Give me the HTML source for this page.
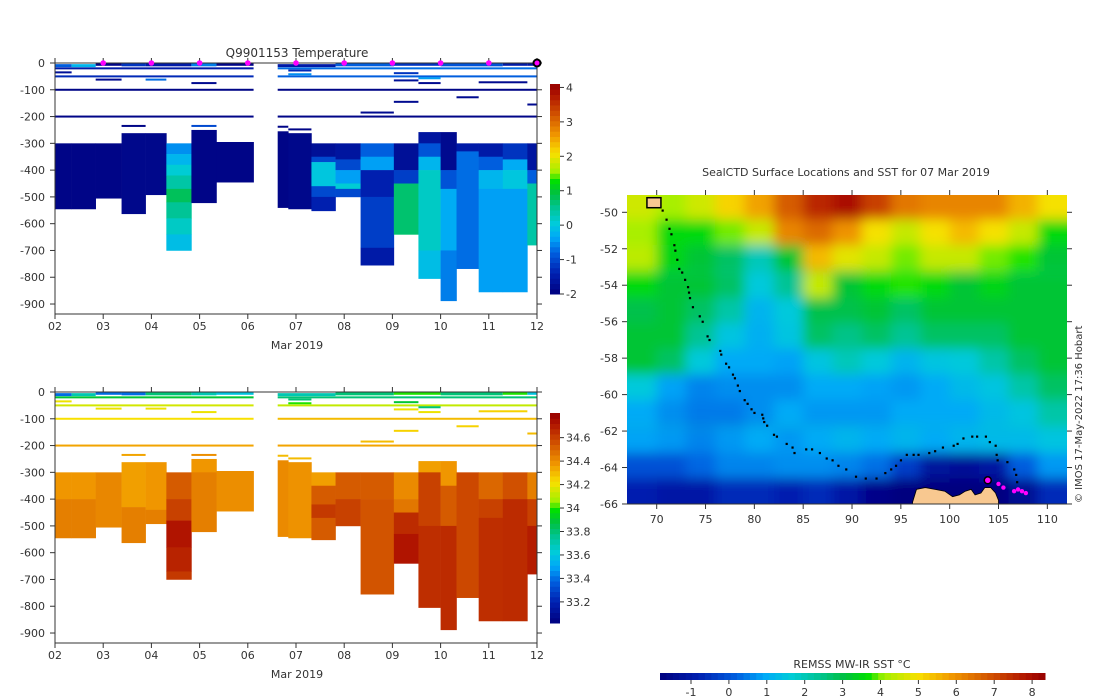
<!DOCTYPE html>
<html><head><meta charset="utf-8">
<style>
html,body{margin:0;padding:0;background:#fff;}
svg{display:block;font-family:"DejaVu Sans","Liberation Sans",sans-serif;}
text{fill:#333;}
</style></head>
<body>
<svg id="root" width="1100" height="700" viewBox="0 0 1100 700" xmlns="http://www.w3.org/2000/svg">
<defs>
<clipPath id="mapclip"><rect x="627" y="195" width="440" height="309"/></clipPath>
<filter id="blur" x="-5%" y="-5%" width="110%" height="110%"><feGaussianBlur stdDeviation="6"/></filter>
</defs>
<text x="297" y="57" text-anchor="middle" font-size="12">Q9901153  Temperature</text>
<text x="846" y="176" text-anchor="middle" font-size="11">SealCTD Surface Locations and SST for 07 Mar 2019</text>
<text x="852" y="668" text-anchor="middle" font-size="11">REMSS MW-IR SST °C</text>
<text transform="translate(1082,503) rotate(-90)" font-size="10">© IMOS 17-May-2022 17:36 Hobart</text>
<g id="top"></g>
<g id="bot"></g>
<g id="map"></g>
</svg>
<script>
// ---------- Section chart data ----------
const colStarts = [2.0,2.345,2.844,3.381,3.88,4.31,4.83,5.35,6.62,6.84,7.32,7.82,8.34,9.03,9.54,10.0,10.33,10.79,11.29,11.8];
const colEnds   = [2.345,2.844,3.381,3.88,4.31,4.83,5.35,6.12,6.84,7.32,7.82,8.34,9.03,9.54,10.0,10.33,10.79,11.29,11.8,12.0];
const tempLayers = [
 [[300,545,-1.9]],[[300,545,-1.9]],[[300,505,-1.9]],[[262,563,-1.85]],[[262,492,-1.85]],
 [[300,340,-0.5],[340,380,-0.2],[380,420,0.1],[420,470,0.4],[470,520,0.8],[520,580,0.5],[580,640,0.2],[640,700,-0.1]],
 [[250,522,-1.9]],[[295,445,-1.9]],[[255,540,-1.9]],[[262,545,-1.85]],
 [[300,350,-1.7],[350,370,-1.0],[370,460,0.0],[460,500,-1.0],[500,552,-1.4]],
 [[300,360,-1.6],[360,400,-1.0],[400,450,-0.4],[450,470,0.1],[470,500,-1.0]],
 [[300,350,-0.8],[350,400,-0.4],[400,500,-1.4],[500,690,-1.1],[690,755,-1.5]],
 [[300,400,-1.7],[400,450,-1.1],[450,640,0.7]],
 [[258,300,-1.6],[300,350,-0.9],[350,400,-0.2],[400,700,0.2],[700,805,-0.1]],
 [[258,400,-1.8],[400,470,-0.9],[470,700,-0.3],[700,888,-0.6]],
 [[300,330,-1.5],[330,768,-0.7]],
 [[300,350,-1.5],[350,400,-0.8],[400,470,-0.2],[470,855,-0.4]],
 [[300,360,-1.2],[360,400,-0.3],[400,470,0.0],[470,855,-0.4]],
 [[300,400,-1.6],[400,450,-0.8],[450,680,0.4]]
];
const salLayers = [
 [[300,400,34.38],[400,545,34.44]],[[300,400,34.38],[400,545,34.44]],[[300,505,34.42]],
 [[262,430,34.36],[430,563,34.44]],[[262,440,34.38],[440,492,34.44]],
 [[300,400,34.53],[400,480,34.6],[480,580,34.72],[580,670,34.68],[670,700,34.62]],
 [[250,300,34.38],[300,522,34.44]],[[295,445,34.4]],[[255,540,34.41]],[[262,545,34.39]],
 [[300,350,34.36],[350,420,34.53],[420,470,34.62],[470,552,34.53]],
 [[300,400,34.53],[400,500,34.6]],
 [[300,400,34.53],[400,755,34.55]],
 [[300,400,34.41],[400,450,34.46],[450,530,34.66],[530,640,34.72]],
 [[258,300,34.36],[300,500,34.6],[500,805,34.65]],
 [[258,350,34.38],[350,500,34.53],[500,888,34.66]],
 [[300,768,34.58]],
 [[300,400,34.5],[400,470,34.6],[470,855,34.65]],
 [[300,400,34.56],[400,855,34.66]],
 [[300,400,34.44],[400,500,34.6],[500,680,34.7]]
];
// surface thin lines: [dayFrom, dayTo, depth, temp, sal]
const surfLines = [
 [2,2.345,8,-0.8,33.4],[2.345,2.844,8,-0.2,33.7],[2.844,3.381,3,-1.9,33.4],[3.381,3.88,5,-1.2,33.4],
 [3.88,4.83,5,-1.5,33.8],[4.83,5.35,5,-0.6,33.7],[5.35,6.12,3,-1.9,33.6],[6.62,7.82,8,-1.5,33.7],
 [7.82,9.03,5,-0.8,33.8],[9.03,10,3,-1.2,34.0],[10,11.29,5,-0.9,33.8],[11.29,11.8,3,-1.5,34.0],[11.8,12,3,-1.6,33.6],
 [2,6.12,20,-1.5,33.9],[6.62,12,20,-0.7,33.8],
 [2,6.12,50,-1.3,34.15],[6.62,12,50,-0.8,34.12],
 [2,6.12,100,-1.9,34.22],[6.62,12,100,-1.9,34.3],
 [2,6.12,200,-1.9,34.35],[6.62,12,200,-1.9,34.35],
 [2,2.345,35,-1.7,34.2],[2.844,3.381,62,-1.8,34.2],[3.88,4.31,62,-0.7,34.2],[4.83,5.35,75,-1.8,34.2],
 [3.381,3.88,235,-1.9,34.35],[4.83,5.35,235,-1.0,34.4],[6.62,6.84,238,-1.9,34.3],[6.84,7.32,248,-1.9,34.3],
 [8.34,9.03,185,-1.8,34.3],[9.03,9.54,145,-1.8,34.25],[10.33,10.79,128,-1.8,34.25],[11.8,12,155,-1.8,34.3],
 [9.03,9.54,38,-1.2,33.9],[9.03,9.54,65,-1.7,34.2],[9.54,10,75,-1.8,34.2],[10.79,11.8,72,-1.8,34.25],
 [9.54,10,57,-0.4,33.8],[6.84,7.32,28,-1.3,33.8],[6.84,7.32,42,-0.5,34.0]
];
const markerDays = [3,4,5,6,7,8,9,10,11];
const currentDay = [12];
const dayTicks = [2,3,4,5,6,7,8,9,10,11,12];
const dayLabels = ["02","03","04","05","06","07","08","09","10","11","12"];
const depthTicks = [0,100,200,300,400,500,600,700,800,900];
const tempTicks = [-2,-1,0,1,2,3,4];
const salTicks = [33.2,33.4,33.6,33.8,34,34.2,34.4,34.6];

// ---------- Map data ----------
const gridLons = [68.5,71.5,74.5,77.5,80.5,83.5,86.5,89.5,92.5,95.5,98.5,101.5,104.5,107.5,110.5];
const gridLats = [-49.7,-51.1,-52.5,-54.0,-55.4,-56.8,-58.2,-59.6,-61.0,-62.5,-63.9,-65.3];
const sstGrid = [
 [4.6,4.2,4.6,5.2,5.8,6.8,7.6,8,7.2,6.4,6.2,6.2,6.2,5.6,5],
 [4.2,3.6,3.6,4,4.5,6.2,6.6,6,5,4.5,5,5.5,5,4.5,3.6],
 [4.4,3.5,3.2,2.8,2,3.2,5.5,4.8,4.5,4,4.5,4.5,4,3.8,3.2],
 [3.6,3.2,3.2,2.8,1.6,2.4,4.5,3.2,3.6,3.8,3.6,3.2,3.5,3.2,3.2],
 [3,3.2,2.8,2.2,1.2,1.6,3,3,3.2,2.8,3.2,3.2,3.2,3.2,3.2],
 [3.2,3.2,2.4,1.5,1.1,1.5,2.8,2.5,2.8,2.4,2.8,2.8,2.8,3.2,3.2],
 [3.2,2.8,1.6,1,1,0.9,1.5,2,1.6,1.2,1.5,1.6,2.2,2.8,3.2],
 [1.6,0.9,0.6,0.7,0.7,0.7,1,1,0.9,0.8,1,1.3,1.5,2.2,2.8],
 [1,0.7,0.5,0.5,0.7,1,0.8,0.8,0.8,1,1,1,1.3,1.5,2.2],
 [0.9,0.8,0.6,0.8,1,0.8,1,1.2,1,1.2,1,1.2,1.3,1.3,1.5],
 [0,0,0.3,0.6,0.6,0.7,0.7,0.6,0.4,-0.3,-1.2,-1.3,-1.1,0.2,0.8],
 [-0.8,-1,-1,-0.6,-0.6,-0.8,-0.6,-1,-1.6,-1.8,-1.8,-1.8,-1.8,-1.4,-0.6]
];
const trackLon = [70.6,71,71.3,71.5,71.8,71.9,72.1,72.3,72.6,72.9,73.2,73.3,73.4,73.7,74.4,74.7,75.2,75.4,76.5,76.6,77.1,77.4,77.8,78,78.3,78.5,79,79.3,79.7,80,80.8,80.9,81,81.3,82,82.3,83.3,83.9,84.1,85.3,85.9,86.7,87.4,88,88.6,89.4,90.4,91.4,92.5,93.4,94,94.5,95,95.6,96.3,96.8,97.9,98.5,99.3,100.4,100.8,101.4,102.3,102.8,103.7,104.1,104.7,104.8,104.9,105.9,106.6,106.8,106.9];
const trackLat = [-49.9,-50.4,-50.9,-51.2,-51.8,-52.1,-52.6,-53.1,-53.3,-53.7,-54.1,-54.4,-54.7,-55.2,-55.7,-56,-56.8,-57,-57.6,-57.8,-58.3,-58.5,-58.9,-59.1,-59.5,-59.8,-60.3,-60.5,-60.8,-61,-61.1,-61.3,-61.5,-61.7,-62.2,-62.3,-62.7,-62.9,-63.2,-63,-63,-63.2,-63.5,-63.6,-63.9,-64.1,-64.5,-64.6,-64.6,-64.3,-64.1,-63.9,-63.6,-63.3,-63.3,-63.3,-63.2,-63.1,-62.9,-62.8,-62.7,-62.4,-62.3,-62.3,-62.3,-62.6,-62.8,-63.3,-63.6,-63.7,-64.1,-64.4,-64.8];
const recentLon = [105,105.5,106.6,107,107.4,107.8];
const recentLat = [-64.9,-65.1,-65.3,-65.2,-65.3,-65.4];
const latestLon = [103.9];
const latestLat = [-64.7];
const landLon = [96.2,96.6,97.5,98.5,99.5,100.3,101,101.6,102.2,102.6,103.2,103.6,104.2,104.7,105,105,96.2];
const landLat = [-65.9,-65.2,-65.1,-65.2,-65.3,-65.6,-65.5,-65.3,-65.2,-65.5,-65.4,-65.1,-65.1,-65.4,-65.8,-66,-66];
const lonTicks = [70,75,80,85,90,95,100,105,110];
const latTicks = [-50,-52,-54,-56,-58,-60,-62,-64,-66];
const sstTicks = [-1,0,1,2,3,4,5,6,7,8];

// ---------- helpers ----------
const NS="http://www.w3.org/2000/svg";
function mk(tag, attrs, parent){const e=document.createElementNS(NS,tag);for(const k in attrs)e.setAttribute(k,attrs[k]);parent.appendChild(e);return e;}
const stops=[[0,[0,0,127]],[0.1,[0,32,176]],[0.2,[0,96,224]],[0.27,[0,168,248]],[0.34,[0,204,216]],[0.41,[0,196,150]],[0.48,[0,192,64]],[0.54,[0,224,0]],[0.58,[160,240,0]],[0.67,[248,224,0]],[0.76,[240,150,0]],[0.86,[208,80,0]],[0.95,[176,20,0]],[1,[150,0,0]]];
function cmap(t){t=Math.max(0,Math.min(1,t));for(let i=1;i<stops.length;i++){if(t<=stops[i][0]){const a=stops[i-1],b=stops[i];const f=(t-a[0])/(b[0]-a[0]);const c=a[1].map((v,j)=>Math.round(v+(b[1][j]-v)*f));return `rgb(${c[0]},${c[1]},${c[2]})`;}}return "rgb(150,0,0)";}

// ---------- section charts ----------
function section(gid, y0, layers, valIdx, vmin, vmax, cbTicks, cbFmt, showMarkers){
  const g=document.getElementById(gid);
  const xS=d=>55+(d-2)*48.2;
  const yS=z=>y0+z*0.2678;
  const tn=v=>(v-vmin)/(vmax-vmin);
  layers.forEach((col,i)=>{
    col.forEach(L=>{
      const r=mk('rect',{x:xS(colStarts[i]),y:yS(L[0]),width:xS(colEnds[i])-xS(colStarts[i])+0.3,height:yS(L[1])-yS(L[0])+0.3,fill:cmap(tn(L[2]))},g);
      
      
    });
  });
  surfLines.forEach(s=>{
    const v=s[valIdx];
    const r=mk('rect',{x:xS(s[0]),y:yS(s[2])-1,width:xS(s[1])-xS(s[0]),height:s[2]<10?3:2,fill:cmap(tn(v))},g);
    
    
  });
  const axc='#333';
  mk('line',{x1:55,y1:y0-5,x2:55,y2:y0+251,stroke:axc},g);
  mk('line',{x1:55,y1:y0+251,x2:537,y2:y0+251,stroke:axc},g);
  mk('line',{x1:55,y1:y0,x2:537,y2:y0,stroke:axc},g);
  mk('line',{x1:537,y1:y0,x2:537,y2:y0+251,stroke:axc},g);
  depthTicks.forEach(z=>{
    const y=yS(z);
    mk('line',{x1:50,y1:y,x2:55,y2:y,stroke:axc},g);
    mk('line',{x1:537,y1:y,x2:542,y2:y,stroke:axc},g);
    const t=mk('text',{x:45,y:y+4,'text-anchor':'end','font-size':11},g);
    t.textContent=z===0?'0':'-'+z;
    
    
  });
  dayTicks.forEach((d,i)=>{
    const x=xS(d);
    mk('line',{x1:x,y1:y0+251,x2:x,y2:y0+256,stroke:axc},g);
    mk('line',{x1:x,y1:y0,x2:x,y2:y0-5,stroke:axc},g);
    const t=mk('text',{x:x,y:y0+267,'text-anchor':'middle','font-size':11},g);
    t.textContent=dayLabels[i];
    
    
  });
  const xl=mk('text',{x:297,y:y0+286,'text-anchor':'middle','font-size':11},g);
  xl.textContent='Mar 2019';
  
  
  if(showMarkers){
    markerDays.forEach(d=>{
      const c=mk('circle',{cx:xS(d),cy:y0,r:2.8,fill:'#ff00ff'},g);
      
      
    });
    currentDay.forEach(d=>{
      const c=mk('circle',{cx:xS(d),cy:y0,r:3.5,fill:'#ff00ff',stroke:'#000','stroke-width':2},g);
      
      
    });
  }
  const cbTop=y0+21, cbBot=y0+231;
  const cb=mk('g',{},g);
  
  
  const n=40;
  for(let i=0;i<n;i++){
    mk('rect',{x:550,y:cbBot-(i+1)*(cbBot-cbTop)/n,width:10,height:(cbBot-cbTop)/n+0.5,fill:cmap((i+0.5)/n)},cb);
  }
  cbTicks.forEach(v=>{
    const y=cbBot-(v-vmin)/(vmax-vmin)*(cbBot-cbTop);
    mk('line',{x1:560,y1:y,x2:564,y2:y,stroke:axc},cb);
    const t=mk('text',{x:566,y:y+4,'font-size':11},cb);
    t.textContent=cbFmt(v);
    
    
  });
}
section('top',63,tempLayers,3,-2,4.1,tempTicks,v=>String(v),true);
section('bot',392,salLayers,4,33.02,34.81,salTicks,v=>String(Math.round(v*10)/10),false);

// ---------- map ----------
(function(){
  const g=document.getElementById('map');
  const lx=lon=>656.7+(lon-70)*9.766;
  const ly=lat=>212.3+(-50-lat)*18.23;
  const tn=v=>(v+1.8)/10.2;
  const clipG=mk('g',{'clip-path':'url(#mapclip)'},g);
  mk('rect',{x:627,y:195,width:440,height:309,fill:cmap(tn(2))},clipG);
  const bg=mk('g',{filter:'url(#blur)'},clipG);
  const dLon=3, dLat=1.417;
  sstGrid.forEach((row,j)=>{
    row.forEach((v,i)=>{
      let x0=lx(gridLons[i]-dLon/2), x1=lx(gridLons[i]+dLon/2);
      let y0=ly(gridLats[j]+dLat/2), y1=ly(gridLats[j]-dLat/2);
      if(i===0)x0-=30; if(i===row.length-1)x1+=30;
      if(j===0)y0-=30; if(j===sstGrid.length-1)y1+=30;
      const r=mk('rect',{x:x0,y:y0,width:x1-x0+0.5,height:y1-y0+0.5,fill:cmap(tn(v))},bg);
      
      
    });
  });
  const land=mk('polygon',{points:landLon.map((l,i)=>lx(l)+','+ly(landLat[i])).join(' '),fill:'#f8c890',stroke:'#000','stroke-width':0.8},clipG);
  
  
  const isl=mk('rect',{x:lx(69),y:ly(-49.2),width:14,height:10,fill:'#f8c890',stroke:'#000','stroke-width':1.5},clipG);
  
  
  trackLon.forEach((l,i)=>{
    const c=mk('rect',{x:lx(l)-1,y:ly(trackLat[i])-1,width:2.2,height:2.2,fill:'#000'},clipG);
    
    
  });
  recentLon.forEach((l,i)=>{
    const c=mk('circle',{cx:lx(l),cy:ly(recentLat[i]),r:2.2,fill:'#ff00ff'},clipG);
    
    
  });
  latestLon.forEach((l,i)=>{
    const c=mk('circle',{cx:lx(l),cy:ly(latestLat[i]),r:3.5,fill:'#ff00ff',stroke:'#000','stroke-width':1.5},clipG);
    
    
  });
  const axc='#333';
  mk('line',{x1:627,y1:504,x2:1067,y2:504,stroke:axc},g);
  lonTicks.forEach(l=>{
    const x=lx(l);
    mk('line',{x1:x,y1:504,x2:x,y2:509,stroke:axc},g);
    mk('line',{x1:x,y1:195,x2:x,y2:190,stroke:axc},g);
    const t=mk('text',{x:x,y:523,'text-anchor':'middle','font-size':11},g);
    t.textContent=String(l);
    
    
  });
  latTicks.forEach(l=>{
    const y=ly(l);
    mk('line',{x1:622,y1:y,x2:627,y2:y,stroke:axc},g);
    mk('line',{x1:1067,y1:y,x2:1072,y2:y,stroke:axc},g);
    const t=mk('text',{x:618,y:y+4,'text-anchor':'end','font-size':11},g);
    t.textContent=String(l);
    
    
  });
  const cb=mk('g',{},g);
  
  
  const sx=v=>691+(v+1)*37.9;
  const n=60;
  for(let i=0;i<n;i++){
    mk('rect',{x:660+i*385/n,y:673,width:385/n+0.5,height:7,fill:cmap((i+0.5)/n)},cb);
  }
  sstTicks.forEach(v=>{
    mk('line',{x1:sx(v),y1:680,x2:sx(v),y2:684,stroke:axc},cb);
    const t=mk('text',{x:sx(v),y:696,'text-anchor':'middle','font-size':11},cb);
    t.textContent=String(v);
    
    
  });
})();
</script>
</body></html>
